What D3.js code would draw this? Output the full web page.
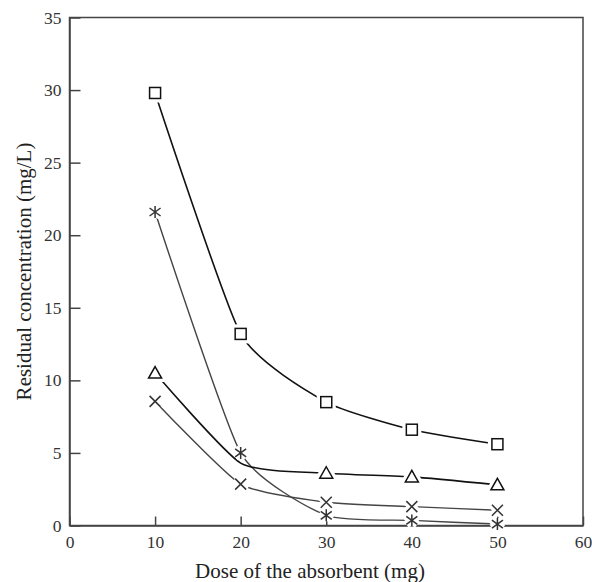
<!DOCTYPE html>
<html><head><meta charset="utf-8">
<script src="https://cdn.jsdelivr.net/npm/d3@7"></script>
<style>body{margin:0;background:#fff}</style>
</head><body>
<svg id="c" width="592" height="582"></svg>
<script>
const doses = [10, 20, 30, 40, 50];
const squareVals = [29.8, 13.2, 8.5, 6.6, 5.6];
const asteriskVals = [21.6, 5.0, 0.7, 0.35, 0.1];
const triangleVals = [10.5, 4.3, 3.6, 3.35, 2.8];
const crossVals = [8.55, 2.85, 1.6, 1.3, 1.05];
const xTicks = [0, 10, 20, 30, 40, 50, 60];
const yTicks = [0, 5, 10, 15, 20, 25, 30, 35];

const svg = d3.select('#c');
const L = 69.5, R = 583, T = 17.5, B = 525.5;
const x = d3.scaleLinear().domain([0, 60]).range([L, R]);
const y = d3.scaleLinear().domain([0, 35]).range([B, T]);
const axisColor = '#444';
const font = 'Liberation Serif, Times New Roman, serif';

const series = [
  {vals: squareVals, sym: 'square', color: '#111', w: 1.6},
  {vals: asteriskVals, sym: 'asterisk', color: '#444', w: 1.4},
  {vals: triangleVals, sym: 'triangle', color: '#111', w: 1.6, hide: [20]},
  {vals: crossVals, sym: 'cross', color: '#444', w: 1.4}
];

const line = d3.line().x(d => x(d[0])).y(d => y(d[1])).curve(d3.curveCardinal.tension(0.45));
series.forEach(s => {
  svg.append('path').datum(doses.map((d, i) => [d, s.vals[i]]))
    .attr('d', line).attr('fill', 'none').attr('stroke', s.color).attr('stroke-width', s.w);
});

// frame
svg.append('rect').attr('x', L).attr('y', T).attr('width', R - L).attr('height', B - T)
  .attr('fill', 'none').attr('stroke', axisColor).attr('stroke-width', 1.5);

const xa = svg.append('g').attr('transform', `translate(0,${B})`)
  .call(d3.axisBottom(x).tickValues(xTicks).tickSizeInner(-9).tickSizeOuter(0).tickPadding(10));
const ya = svg.append('g').attr('transform', `translate(${L},0)`)
  .call(d3.axisLeft(y).tickValues(yTicks).tickSizeInner(-11).tickSizeOuter(0).tickPadding(8));
[xa, ya].forEach(a => {
  a.attr('font-family', font).attr('font-size', 17.5);
  a.select('.domain').attr('stroke', axisColor).attr('stroke-width', 1.5);
  a.selectAll('line').attr('stroke', axisColor).attr('stroke-width', 1.5);
  a.selectAll('text').attr('font-family', font).attr('font-size', 17.5).attr('fill', '#333');
});

function marker(g, sym, color) {
  const draw = (stroke, sw) => {
    if (sym === 'square') g.append('rect').attr('x', -5.5).attr('y', -5.5).attr('width', 11).attr('height', 11)
      .attr('fill', '#fff').attr('stroke', stroke).attr('stroke-width', sw);
    else if (sym === 'triangle') g.append('path').attr('d', 'M0,-6.5L6.5,5L-6.5,5Z')
      .attr('fill', '#fff').attr('stroke', stroke).attr('stroke-width', sw);
    else if (sym === 'cross') g.append('path').attr('d', 'M-5.5,-5.5L5.5,5.5M5.5,-5.5L-5.5,5.5')
      .attr('fill', 'none').attr('stroke', stroke).attr('stroke-width', sw);
    else if (sym === 'asterisk') g.append('path').attr('d', 'M-5.5,-4L5.5,4M5.5,-4L-5.5,4M0,-6L0,6')
      .attr('fill', 'none').attr('stroke', stroke).attr('stroke-width', sw);
  };
  draw('#fff', 8);
  draw(color, 1.5);
}
series.forEach(s => {
  doses.forEach((d, i) => {
    if (s.hide && s.hide.includes(d)) return;
    const g = svg.append('g').attr('transform', `translate(${x(d)},${y(s.vals[i])})`);
    marker(g, s.sym, s.sym === 'square' || s.sym === 'triangle' ? '#111' : '#333');
  });
});

svg.append('text').attr('x', 310).attr('y', 578).attr('text-anchor', 'middle')
  .attr('font-family', font).attr('font-size', 21).attr('fill', '#222').text('Dose of the absorbent (mg)');
svg.append('text').attr('transform', 'translate(31,271.5) rotate(-90)').attr('text-anchor', 'middle')
  .attr('font-family', font).attr('font-size', 21).attr('fill', '#222').text('Residual concentration (mg/L)');
</script>
</body></html>
